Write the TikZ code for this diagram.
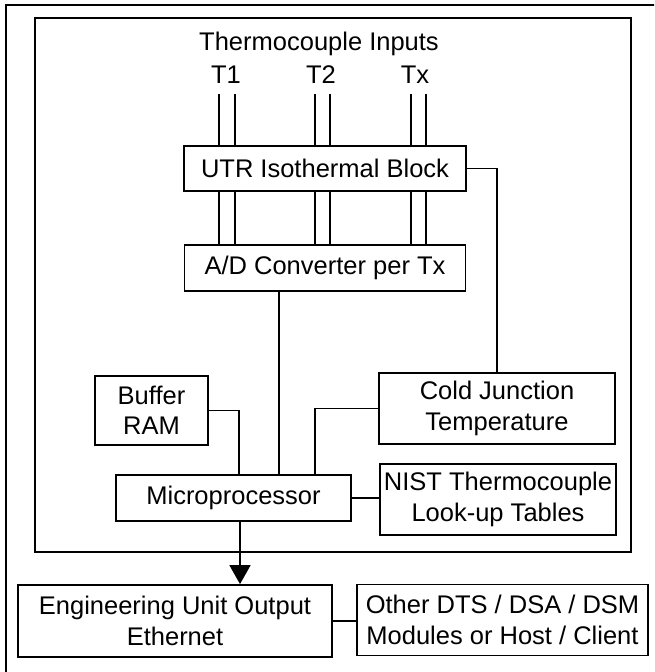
\documentclass[tikz,border=0pt]{standalone}
\usepackage{fontspec}
\setmainfont{Liberation Sans}
\usetikzlibrary{arrows.meta,positioning}

\begin{document}
\begin{tikzpicture}[x=1pt,y=-1pt,
  box/.style={draw, line width=1.8pt, inner sep=0pt, align=center, font=\fontsize{25.5}{30.5}\selectfont},
  lbl/.style={inner sep=0pt, anchor=base, font=\fontsize{25.5}{30.5}\selectfont},
  wire/.style={line width=1.6pt}]
  \useasboundingbox (0,0) rectangle (654,672);
  \clip (0,0) rectangle (654,672);
  % Frames
  \draw[line width=2.4pt] (6,700) -- (6,5) -- (700,5);
  \draw[line width=2.4pt] (35,18) rectangle (631,552);
  % Inputs
  \node[lbl] (title) at (319,50) {Thermocouple Inputs};
  \node[lbl] (t1) at (226,83) {T1};
  \node[lbl] (t2) at (321,83) {T2};
  \node[lbl] (tx) at (415,83) {Tx};
  % Blocks
  \node[box, minimum width=282, minimum height=45] (utr) at (325,168.5) {UTR Isothermal Block};
  \node[box, minimum width=281, minimum height=46, below=52pt of utr] (ad) {A/D Converter per Tx};
  \node[box, minimum width=113, minimum height=69] (buf) at (151.5,410.5) {Buffer\\RAM};
  \node[box, minimum width=236, minimum height=71] (cj) at (497,408.5) {Cold Junction\\Temperature};
  \node[box, minimum width=235, minimum height=46] (micro) at (233.5,498) {Microprocessor};
  \node[box, minimum width=236, minimum height=71] (nist) at (498,499.5) {NIST Thermocouple\\Look-up Tables};
  \node[box, minimum width=314, minimum height=72] (eng) at (175,621) {Engineering Unit Output\\Ethernet};
  \node[box, minimum width=291, minimum height=71] (other) at (502.5,620) {Other DTS / DSA / DSM\\Modules or Host / Client};
  % Thermocouple wires
  \foreach \x in {219,235,315,330,411,426} {
    \coordinate (w\x) at (\x,94);
    \draw[wire] (w\x) -- (utr.north -| w\x);
    \draw[wire] (utr.south -| w\x) -- (ad.north -| w\x);
  }
  % Connections
  \coordinate (adout) at (279,0);
  \coordinate (mout) at ([xshift=6.5pt]micro.south);
  \draw[wire] (ad.south -| adout) -- (micro.north -| adout);
  \draw[wire] (utr.east) -| (cj.north);
  \draw[wire] (buf.east) -| ([xshift=5.5pt]micro.north);
  \draw[wire] (cj.west) -| ([xshift=81.5pt]micro.north);
  \draw[wire] (micro.east) -- (micro.east -| nist.west);
  \draw[wire, -{Triangle[width=21pt,length=19pt]}] (mout) -- (eng.north -| mout);
  \draw[wire] (eng.east) -- (eng.east -| other.west);
\end{tikzpicture}
\end{document}
